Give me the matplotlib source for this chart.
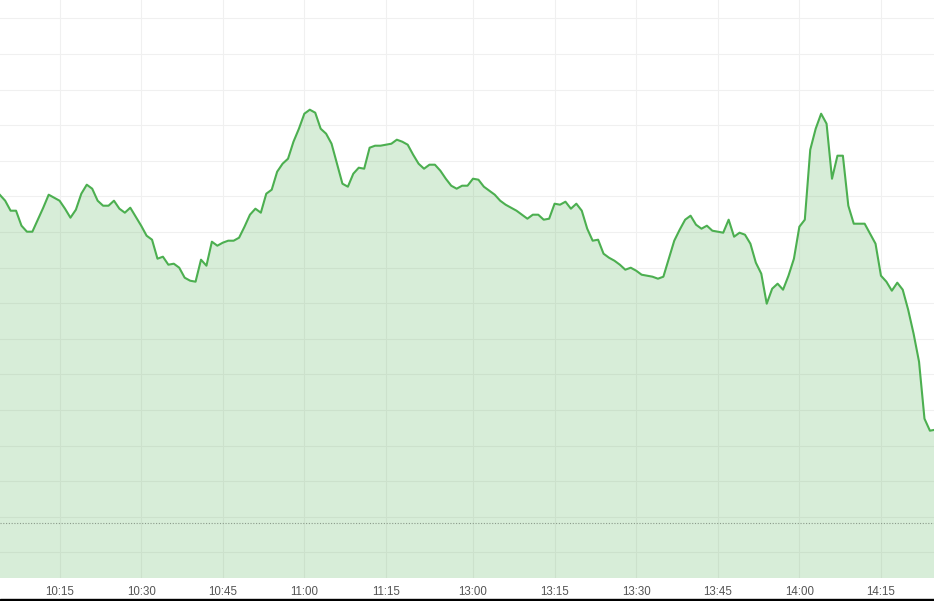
#Intraday price area chart, 10:04 - 14:25
import numpy as np
import pandas as pd
import matplotlib
matplotlib.use('Agg')
import matplotlib.pyplot as plt
from matplotlib.patches import Rectangle

prev_close=20.00 #reference level, dotted line

am_prices=[23.28,23.22,23.12,23.12,22.97,22.91,22.91,23.03,23.15,23.28,23.25,
	23.22,23.14,23.05,23.13,23.29,23.38,23.34,23.22,23.17,23.17,
	23.22,23.14,23.10,23.15,23.06,22.97,22.87,22.83,22.64,22.66,
	22.58,22.59,22.55,22.45,22.42,22.41,22.63,22.57,22.81,22.77,
	22.80,22.82,22.82,22.85,22.96,23.08,23.14,23.10,23.29,23.33,
	23.51,23.59,23.64,23.81,23.94,24.09,24.13,24.10,23.94,23.89,
	23.79,23.59,23.39,23.36,23.49,23.55,23.54,23.75,23.77,23.77,
	23.78,23.79,23.83,23.81,23.78,23.68,23.59,23.54,23.58,23.58,
	23.52,23.44,23.37,23.34,23.37,23.37]

pm_prices=[23.44,23.43,23.36,23.32,
	23.28,23.22,23.18,23.15,23.12,23.08,23.04,23.08,23.08,23.03,
	23.04,23.19,23.18,23.21,23.14,23.19,23.12,22.94,22.82,22.83,
	22.69,22.65,22.62,22.58,22.53,22.55,22.52,22.48,22.47,22.46,
	22.44,22.46,22.64,22.82,22.93,23.03,23.07,22.98,22.94,22.97,
	22.92,22.91,22.90,23.03,22.86,22.90,22.88,22.79,22.60,22.49,
	22.19,22.34,22.39,22.33,22.47,22.64,22.96,23.03,23.73,23.94,
	24.09,23.99,23.44,23.67,23.67,23.17,22.99,22.99,22.99,22.89,
	22.79,22.47,22.41,22.32,22.40,22.33,22.13,21.89,21.61,21.04,
	20.92,20.93]

tick_labels=['10:15','10:30','10:45','11:00','11:15','13:00','13:15','13:30','13:45','14:00','14:15']

#minute stamps for the two sessions
am_times=pd.date_range('10:04','11:30',freq='1min').strftime('%H:%M')
pm_times=pd.date_range('13:00','14:25',freq='1min').strftime('%H:%M')
times=list(am_times)+list(pm_times)
prices=np.array(am_prices+pm_prices)
x=np.arange(len(prices))

line_col='#4caf50'

fig=plt.figure(figsize=(9.34,6.01),dpi=100)
ax=fig.add_axes([0,23/601,1,578/601])

ymin=19.447
ax.fill_between(x,prices,ymin,color=line_col,alpha=0.22,linewidth=0,zorder=2)
ax.plot(x,prices,color=line_col,lw=1.5,zorder=3)
ax.axhline(prev_close,color='#8a9a8a',lw=0.8,ls=(0,(1,1.5)),zorder=3)

ticks=[times.index(t) for t in tick_labels]
ax.set_xticks(ticks)
ax.set_xticklabels(tick_labels,fontsize=8.3,color='#555555',family='Liberation Sans')
ax.set_yticks(20.059+0.356*np.arange(-1,15))
ax.set_yticklabels([])
ax.tick_params(length=0,pad=5.5)
ax.grid(True,color='#f0f0f0',lw=0.8,zorder=1)
ax.set_axisbelow(True)
for s in ax.spines.values():
	s.set_visible(False)

ax.set_xlim(0.05,171.75)
ax.set_ylim(ymin,25.227)

#dark strip along the bottom edge
fig.patches.append(Rectangle((0,0),1,2.5/601,transform=fig.transFigure,color='black',zorder=10))

fig.savefig('out.png',dpi=100)
